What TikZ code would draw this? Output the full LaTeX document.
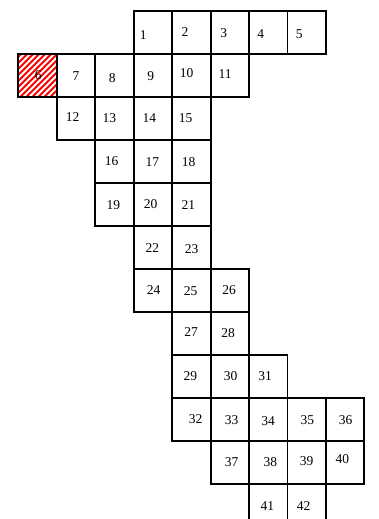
\documentclass[tikz,border=0pt]{standalone}
\usepackage{fontspec}
\setmainfont{Liberation Serif}
\begin{document}
\begin{tikzpicture}[x=1pt,y=-1pt,
  cellbox/.style={draw=black,line width=1.9pt},
  hatchline/.style={draw=red,line width=1.9pt},
  num/.style={font=\fontsize{13.5}{13.5}\selectfont,inner sep=0pt}]
\useasboundingbox (0,0) rectangle (378,519);
% hatched cell 6
\begin{scope}
  \clip (18.3,54.3) rectangle (56.75,97.3);
  \foreach \i in {-54,-48,...,48}
    \draw[hatchline] ({18.3+\i},99) -- +(47,-47);
\end{scope}
% cells: column/row
\foreach \c/\r in {3/0,4/0,5/0,6/0,7/0,
  0/1,1/1,2/1,3/1,4/1,5/1,
  1/2,2/2,3/2,4/2,
  2/3,3/3,4/3,
  2/4,3/4,4/4,
  3/5,4/5,
  3/6,4/6,5/6,
  4/7,5/7,
  4/8,5/8,6/8,
  4/9,5/9,6/9,7/9,8/9,
  5/10,6/10,7/10,8/10,
  6/11,7/11}
  \draw[cellbox] ({18.3+38.45*\c},{11.3+43*\r}) rectangle +(38.45,43);
% labels
\foreach \n/\lx/\ly in {1/143.3/35,2/185/32.3,3/223.7/33.3,4/260.7/34,5/299.3/34,
  6/38.3/75,7/76/76,8/112.3/78,9/150.7/76,10/186.7/73.3,11/225/74,
  12/72.7/117.3,13/109.3/118.3,14/149.3/118.3,15/185.7/118.3,
  16/111.7/160.7,17/152.3/162.3,18/188.7/162.3,
  19/113.3/205,20/150.7/204.3,21/188.3/205.3,
  22/152.3/248.3,23/191.7/248.7,
  24/153.7/290,25/190.7/291,26/229/290,
  27/191/332.3,28/228/333.3,
  29/190.3/376,30/230.7/376,31/265/376,
  32/195.7/419,33/231.7/420,34/268/420.7,35/307.3/420,36/345.7/420,
  37/231.7/461.7,38/270.3/462.3,39/306.7/460.7,40/342.3/459.3,
  41/267.3/505.7,42/303.7/505.7}
  \node[num] (n\n) at (\lx,\ly) {\n};
\end{tikzpicture}
\end{document}
